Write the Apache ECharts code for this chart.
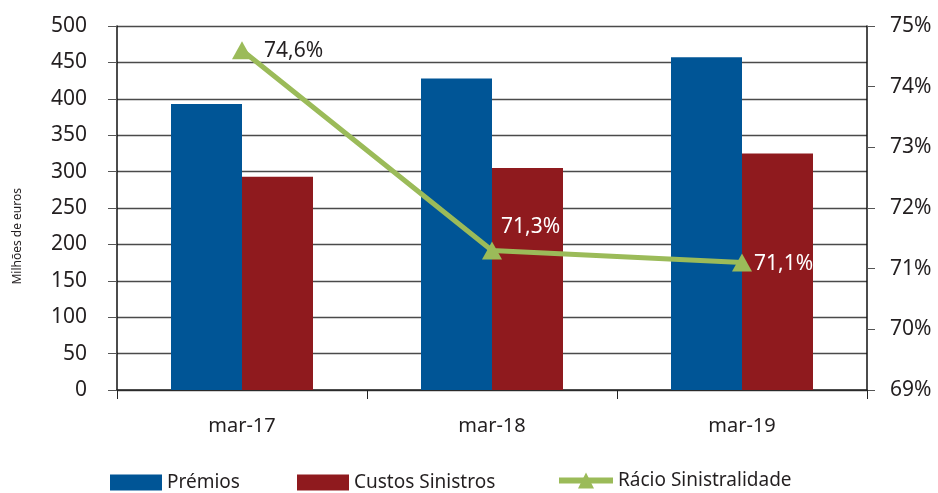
<!DOCTYPE html>
<html>
<head>
<meta charset="utf-8">
<script src="https://cdn.jsdelivr.net/npm/echarts@6/dist/echarts.min.js"></script>
<style>
    html, body { margin: 0; padding: 0; background: #fff; }
    #chart { width: 938px; height: 493px; }
</style>
</head>
<body>
<div id="chart"></div>
<script>
    var categories = ['mar-17', 'mar-18', 'mar-19'];
    var premios = [393, 428, 457];
    var custos = [293, 305, 325];
    var racio = [74.6, 71.3, 71.1];
    var leftTicks = { min: 0, max: 500, interval: 50 };
    var rightTicks = { min: 69, max: 75, interval: 1 };

    var textColor = '#231f20';
    var font = 'Noto Sans';
    var labelOffsets = [[12, 1], [-1, -23], [2, 1]];
    var labelColors = [textColor, '#fff', '#fff'];

    var legendText = { fontSize: 19, color: textColor, fontFamily: font };

    var myChart = echarts.init(document.getElementById('chart'));
    var option = {
        textStyle: { fontFamily: font },
        animation: false,
        grid: { left: 117, right: 71, top: 26, bottom: 103 },
        graphic: [{
            type: 'text',
            left: 12,
            top: 188,
            rotation: Math.PI / 2,
            style: { text: 'Milhões de euros', fontSize: 12, fill: textColor, fontFamily: font }
        }],
        legend: [
            {
                data: ['Prémios'], left: 105, top: 468, itemWidth: 52, itemHeight: 16,
                icon: 'rect', textStyle: legendText
            },
            {
                data: ['Custos Sinistros'], left: 292, top: 468, itemWidth: 52, itemHeight: 16,
                icon: 'rect', textStyle: legendText
            },
            {
                data: ['Rácio Sinistralidade'], left: 551, top: 466, itemWidth: 54, itemHeight: 20,
                lineStyle: { width: 6 }, textStyle: legendText
            }
        ],
        xAxis: {
            type: 'category',
            data: categories,
            axisLine: { lineStyle: { color: '#222', width: 1.5 } },
            axisTick: { show: true, length: 9, lineStyle: { color: '#222' } },
            axisLabel: { fontSize: 20, color: textColor, margin: 26 }
        },
        yAxis: [
            {
                type: 'value',
                min: leftTicks.min, max: leftTicks.max, interval: leftTicks.interval,
                axisLine: { show: true, lineStyle: { color: '#111', width: 1.5 } },
                axisTick: { show: true, length: 9, lineStyle: { color: '#555' } },
                axisLabel: { fontSize: 21, color: textColor, margin: 30 },
                splitLine: { show: true, lineStyle: { color: '#4a4a4a', width: 1.3 } }
            },
            {
                type: 'value',
                min: rightTicks.min, max: rightTicks.max, interval: rightTicks.interval,
                position: 'right',
                axisLine: { show: true, lineStyle: { color: '#111', width: 1.5 } },
                axisTick: { show: true, length: 8, lineStyle: { color: '#555' } },
                axisLabel: { fontSize: 21, color: textColor, margin: 23, formatter: '{value}%' },
                splitLine: { show: false }
            }
        ],
        series: [
            {
                name: 'Prémios',
                type: 'bar',
                data: premios,
                barWidth: 71,
                barGap: '0%',
                itemStyle: { color: '#005596' }
            },
            {
                name: 'Custos Sinistros',
                type: 'bar',
                data: custos,
                barWidth: 71,
                itemStyle: { color: '#8f1a1e' }
            },
            {
                name: 'Rácio Sinistralidade',
                type: 'line',
                yAxisIndex: 1,
                symbol: 'triangle',
                symbolSize: [20, 18],
                lineStyle: { color: '#9bbb59', width: 5 },
                itemStyle: { color: '#9bbb59' },
                label: {
                    show: true,
                    position: 'right',
                    distance: 0,
                    fontSize: 21,
                    formatter: function (p) {
                        return p.value.toFixed(1).replace('.', ',') + '%';
                    }
                },
                data: racio.map(function (v, i) {
                    return {
                        value: v,
                        label: { color: labelColors[i], offset: labelOffsets[i] }
                    };
                })
            }
        ]
    };
    myChart.setOption(option);
</script>
</body>
</html>
